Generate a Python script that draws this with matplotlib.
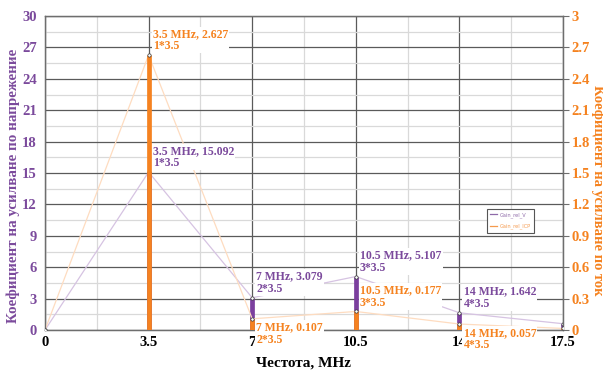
import matplotlib.pyplot as plt
from matplotlib.ticker import MultipleLocator, FormatStrFormatter

# data
freq = [0, 3.5, 7, 10.5, 14, 17.5]
gain_v = [0, 15.092, 3.079, 5.107, 1.642, 0.6]
gain_icp = [0, 2.627, 0.107, 0.177, 0.057, 0.015]
multiplier = [None, 1, 2, 3, 4, None]
# where each data label sits relative to its point
pos_v = [None, 'above', 'above', 'above', 'above', None]
pos_icp = [None, 'above', 'below', 'above', 'below', None]

PURPLE = '#7b4a9c'
ORANGE = '#f5821f'
BAR_PURPLE = '#7b3f9e'
BAR_ORANGE = '#f58220'

plt.rcParams['font.family'] = ['Liberation Serif', 'DejaVu Serif']
plt.rcParams['font.weight'] = 'bold'
plt.rcParams['axes.labelweight'] = 'bold'

fig = plt.figure(figsize=(6.03, 3.72), dpi=100)
ax = fig.add_axes([45 / 603, 42 / 372, 518 / 603, 314 / 372])
ax2 = ax.twinx()

ax.set_xlim(0, 17.5)
ax.set_ylim(0, 30)
ax2.set_ylim(0, 3)

# grid on the primary axes
ax.xaxis.set_major_locator(MultipleLocator(3.5))
ax.xaxis.set_minor_locator(MultipleLocator(1.75))
ax.yaxis.set_major_locator(MultipleLocator(3))
ax.yaxis.set_minor_locator(MultipleLocator(1.5))
ax2.yaxis.set_major_locator(MultipleLocator(0.3))
ax2.yaxis.set_major_formatter(FormatStrFormatter('%g'))
ax.xaxis.set_major_formatter(FormatStrFormatter('%g'))
ax.grid(which='major', color='#5a5a5a', lw=0.9)
ax.grid(which='minor', color='#d9d9d9', lw=0.9)
ax.set_axisbelow(True)

for a in (ax, ax2):
    for s in a.spines.values():
        s.set_color('#6e6e6e')
        s.set_linewidth(0.9)

ax.tick_params(axis='y', which='both', length=0, pad=6, labelsize=10.5,
               labelcolor=PURPLE)
ax.tick_params(axis='x', which='both', length=0, pad=4, labelsize=10.5,
               labelcolor='black')
ax2.tick_params(axis='y', length=4, pad=2, labelsize=10.5,
                labelcolor=ORANGE, color='#6e6e6e')
for lab in ax.get_xticklabels() + ax.get_yticklabels() + ax2.get_yticklabels():
    lab.set_fontweight('bold')

# lines
ax.plot(freq, gain_v, color='#d6c3e2', lw=0.9, zorder=2,
        label='Gain_rel_V')
ax2.plot(freq, gain_icp, color='#fedcc0', lw=0.9, zorder=2,
         label='Gain_rel_ICP')

# drop bars
ax.vlines(freq, 0, gain_v, color=BAR_PURPLE, lw=3.4, zorder=3)
ax2.vlines(freq, 0, gain_icp, color=BAR_ORANGE, lw=3.4, zorder=3)

# point markers
ax2.plot(freq, gain_icp, ls='none', marker='o', ms=2.4, mfc='white',
         mec='#333333', mew=0.5, zorder=4)
ax.plot(freq, gain_v, ls='none', marker='o', ms=2.4, mfc='white',
        mec='#333333', mew=0.5, zorder=4)


def add_label(x, y, trans, color, k, where):
    txt = f"{x:g} MHz, {y}\n{k}*3.5"
    if where == 'above':
        off, va = (3, 2), 'bottom'
    else:
        off, va = (3, -2), 'top'
    ax2.annotate(txt, xy=(x, y), xycoords=trans, xytext=off,
                 textcoords='offset points', ha='left', va=va,
                 fontsize=8.5, fontweight='bold', color=color,
                 linespacing=1.05,
                 bbox=dict(boxstyle='square,pad=0.1', fc='white', ec='none'),
                 zorder=10, annotation_clip=False)


for x, v, k, p in zip(freq, gain_v, multiplier, pos_v):
    if k is not None:
        add_label(x, v, ax.transData, PURPLE, k, p)
for x, v, k, p in zip(freq, gain_icp, multiplier, pos_icp):
    if k is not None:
        add_label(x, v, ax2.transData, ORANGE, k, p)

ax.set_xlabel('Честота, MHz', fontsize=11, fontweight='bold',
              color='black', labelpad=6)
ax.set_ylabel('Коефициент на усилване по напрежение', fontsize=10.8,
              fontweight='bold', color=PURPLE, va='center')
ax.yaxis.set_label_coords(-0.061, 0.46)
ax2.set_ylabel('Коефициент на усилване по ток', fontsize=10.5,
               fontweight='bold', color=ORANGE, rotation=270, va='center')
ax2.yaxis.set_label_coords(1.067, 0.445)

h1, l1 = ax.get_legend_handles_labels()
h2, l2 = ax2.get_legend_handles_labels()
leg = ax2.legend(h1 + h2, l1 + l2, loc='lower left',
                 bbox_to_anchor=(0.853, 0.309), fontsize=3.6,
                 labelcolor=['#8e6aa8', '#f59a4e'], handlelength=1.4,
                 handletextpad=0.5, fancybox=False, edgecolor='#555555',
                 framealpha=1, borderpad=0.7, labelspacing=1.2,
                 borderaxespad=0)
leg.get_frame().set_linewidth(0.8)
leg.get_lines()[0].set_color('#8e6aa8')
leg.get_lines()[1].set_color('#f59a4e')
for t in leg.get_texts():
    t.set_fontweight('normal')
    t.set_fontfamily('DejaVu Sans')

fig.savefig('out.png', dpi=100)
